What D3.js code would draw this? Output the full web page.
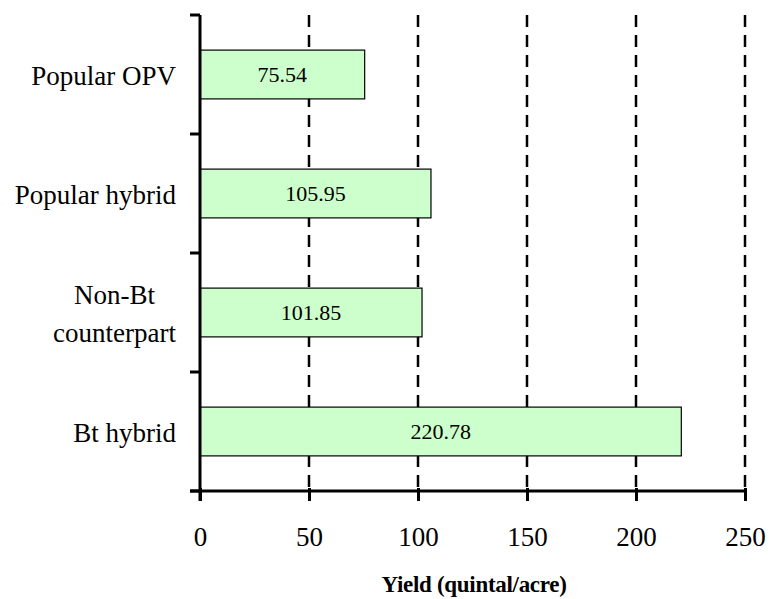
<!DOCTYPE html>
<html>
<head>
<meta charset="utf-8">
<script src="https://cdn.jsdelivr.net/npm/d3@7"></script>
<style>
  body { margin: 0; background: #fff; }
  svg { display: block; font-family: "Liberation Serif", "Times New Roman", serif; }
</style>
</head>
<body>
<svg id="chart" width="770" height="599"></svg>
<script>
// Yield by variety type
const categories = ["Popular OPV", "Popular hybrid", "Non-Bt\ncounterpart", "Bt hybrid"];
const yields = [75.54, 105.95, 101.85, 220.78];
const xTicks = [0, 50, 100, 150, 200, 250];
const xTitle = "Yield (quintal/acre)";

const svg = d3.select("#chart");
const plotLeft = 200, plotRight = 745, plotTop = 15, plotBottom = 491;

const x = d3.scaleLinear().domain([0, 250]).range([plotLeft, plotRight]);
const y = d3.scaleBand().domain(categories).range([plotTop, plotBottom]).paddingInner(0.59).paddingOuter(0.295);

// dashed vertical gridlines
svg.append("g").selectAll("line").data(xTicks.slice(1)).join("line")
  .attr("x1", d => x(d)).attr("x2", d => x(d))
  .attr("y1", plotTop).attr("y2", plotBottom)
  .attr("stroke", "#000").attr("stroke-width", 2.5)
  .attr("stroke-dasharray", "12,8");

// bars
svg.append("g").selectAll("rect").data(categories).join("rect")
  .attr("x", x(0))
  .attr("y", d => y(d))
  .attr("width", (d, i) => x(yields[i]) - x(0))
  .attr("height", y.bandwidth())
  .attr("fill", "#ccffcc")
  .attr("stroke", "#000").attr("stroke-width", 1.2);

// value labels
svg.append("g").selectAll("text").data(categories).join("text")
  .attr("x", (d, i) => (x(0) + x(yields[i])) / 2)
  .attr("y", d => y(d) + y.bandwidth() / 2)
  .attr("dy", "0.36em")
  .attr("text-anchor", "middle")
  .attr("font-size", 22)
  .text((d, i) => yields[i].toFixed(2));

// x axis
const xAxis = svg.append("g").attr("transform", `translate(0,${plotBottom})`)
  .call(d3.axisBottom(x).tickValues(xTicks).tickSize(10).tickPadding(26).tickSizeOuter(0));
xAxis.select(".domain").remove();
xAxis.append("line").attr("x1", plotLeft - 10).attr("x2", plotRight).attr("y1", 0).attr("y2", 0)
  .attr("stroke", "#000").attr("stroke-width", 3);
xAxis.selectAll(".tick line").attr("stroke-width", 3).attr("y1", -3);
xAxis.selectAll(".tick text").attr("font-size", 27).attr("font-family", "Liberation Serif").attr("fill", "#000");

// y axis: line with ticks at band boundaries
const yAxis = svg.append("g");
yAxis.append("line").attr("x1", plotLeft).attr("x2", plotLeft).attr("y1", plotTop).attr("y2", plotBottom + 10)
  .attr("stroke", "#000").attr("stroke-width", 3);
const step = y.step();
const boundaries = d3.range(categories.length + 1).map(i => plotTop + i * step);
yAxis.selectAll("line.yt").data(boundaries).join("line").attr("class", "yt")
  .attr("x1", plotLeft - 10).attr("x2", plotLeft)
  .attr("y1", d => d).attr("y2", d => d)
  .attr("stroke", "#000").attr("stroke-width", 3);

// category labels (multi-line labels are centred within their block)
const labelRight = 176;
categories.forEach(c => {
  const lines = c.split("\n");
  const cy = y(c) + y.bandwidth() / 2;
  const g = svg.append("g");
  const lh = 38;
  const texts = lines.map((ln, i) => g.append("text")
    .attr("y", cy + (i - (lines.length - 1) / 2) * lh)
    .attr("dy", "0.4em")
    .attr("font-size", 27)
    .attr("text-anchor", "middle")
    .text(ln));
  const w = d3.max(texts, t => t.node().getComputedTextLength());
  texts.forEach(t => t.attr("x", labelRight - w / 2));
});

// x axis title
svg.append("text")
  .attr("x", 474)
  .attr("y", 592)
  .attr("text-anchor", "middle")
  .attr("font-size", 23)
  .attr("font-weight", "bold")
  .attr("letter-spacing", "-0.3")
  .text(xTitle);
</script>
</body>
</html>
